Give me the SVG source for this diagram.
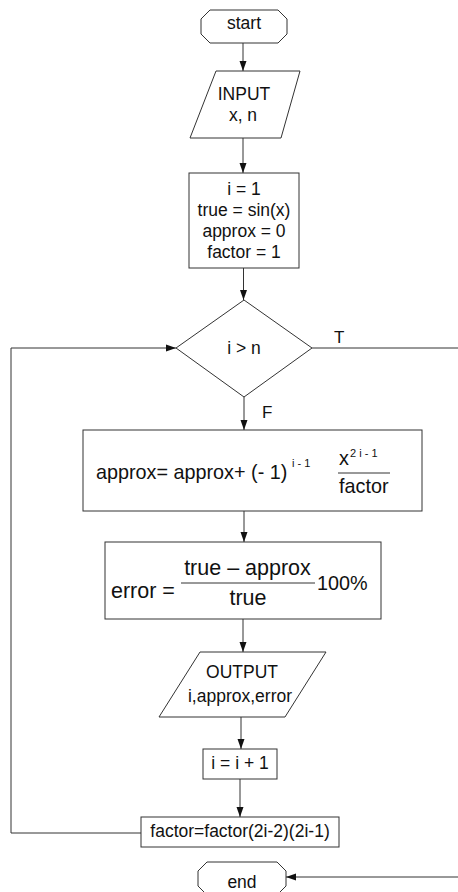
<svg xmlns="http://www.w3.org/2000/svg" width="458" height="892" viewBox="0 0 458 892">
  <defs>
    <marker id="arrow" viewBox="0 0 10 10" refX="10" refY="5" markerWidth="10" markerHeight="10" markerUnits="userSpaceOnUse" orient="auto">
      <path d="M0,1.5 L10,5 L0,8.5 Z" fill="#111"/>
    </marker>
    <style>
      .shape { fill: #fff; stroke: #333; stroke-width: 1; }
      .wire { fill: none; stroke: #333; stroke-width: 1; }
      text { font-family: "Liberation Sans", Arial, sans-serif; fill: #111; }
      .t { font-size: 17.5px; text-anchor: middle; }
      .big { font-size: 19.8px; }
      .err { font-size: 21.5px; }
      .sup { font-size: 11px; }
      .lbl { font-size: 17px; }
    </style>
  </defs>
  <rect width="458" height="892" fill="#fff"/>

  <!-- connectors -->
  <g id="connectors">
    <line class="wire" x1="243" y1="43" x2="243" y2="71" marker-end="url(#arrow)"/>
    <line class="wire" x1="243" y1="138" x2="243" y2="173" marker-end="url(#arrow)"/>
    <line class="wire" x1="243.5" y1="268" x2="243.5" y2="300" marker-end="url(#arrow)"/>
    <line class="wire" x1="244" y1="397" x2="244" y2="430" marker-end="url(#arrow)"/>
    <line class="wire" x1="244" y1="511" x2="244" y2="542" marker-end="url(#arrow)"/>
    <line class="wire" x1="243" y1="619" x2="243" y2="652" marker-end="url(#arrow)"/>
    <line class="wire" x1="241" y1="717" x2="241" y2="749" marker-end="url(#arrow)"/>
    <line class="wire" x1="240" y1="779" x2="240" y2="817" marker-end="url(#arrow)"/>
    <!-- loop back from factor update to the test -->
    <polyline class="wire" points="141,833 11,833 11,348 176,348" marker-end="url(#arrow)"/>
    <!-- true branch to end -->
    <polyline class="wire" points="312,348 460,348 460,877 286,877" marker-end="url(#arrow)"/>
    <text class="lbl" x="334" y="343">T</text>
    <text class="lbl" x="262" y="418">F</text>
  </g>

  <g id="start">
    <polygon class="shape" points="210,10 278,10 287,19 287,34 278,43 210,43 201,34 201,19"/>
    <text class="t" x="244" y="29">start</text>
  </g>

  <g id="input">
    <polygon class="shape" points="216,71 300,71 281,138 190,138"/>
    <text class="t" x="244" y="100">INPUT</text>
    <text class="t" x="243" y="121">x, n</text>
  </g>

  <g id="init">
    <rect class="shape" x="189" y="173" width="110" height="95"/>
    <text class="t" x="244" y="195">i = 1</text>
    <text class="t" x="244" y="216">true = sin(x)</text>
    <text class="t" x="244" y="237">approx = 0</text>
    <text class="t" x="244" y="258">factor = 1</text>
  </g>

  <g id="test">
    <polygon class="shape" points="244,300 312,348 244,397 176,348"/>
    <text class="t" x="244" y="354">i &gt; n</text>
  </g>

  <g id="update-approx">
    <rect class="shape" x="83" y="430" width="339" height="81"/>
    <text class="big" x="96" y="479">approx= approx+ (- 1)</text>
    <text class="sup" x="292" y="467">i - 1</text>
    <text class="big" x="339" y="465">x</text>
    <text class="sup" x="350" y="457">2 i - 1</text>
    <line x1="338" y1="473" x2="390" y2="473" stroke="#333" stroke-width="1"/>
    <text class="big" x="339" y="493">factor</text>
  </g>

  <g id="error">
    <rect class="shape" x="105" y="542" width="276" height="77"/>
    <text class="err" x="111" y="598">error =</text>
    <text class="err" x="247.5" y="575" text-anchor="middle">true – approx</text>
    <line x1="181" y1="583" x2="315" y2="583" stroke="#333" stroke-width="1"/>
    <text class="err" x="248" y="605" text-anchor="middle">true</text>
    <text class="big" x="317" y="590">100%</text>
  </g>

  <g id="output">
    <polygon class="shape" points="200,652 326,652 285,717 159,717"/>
    <text class="t" x="242" y="678">OUTPUT</text>
    <text class="t" x="240" y="702">i,approx,error</text>
  </g>

  <g id="increment">
    <rect class="shape" x="203" y="749" width="74" height="30"/>
    <text class="t" x="240" y="769">i = i + 1</text>
  </g>

  <g id="update-factor">
    <rect class="shape" x="141" y="817" width="198" height="30"/>
    <text class="t" x="240" y="837">factor=factor(2i-2)(2i-1)</text>
  </g>

  <g id="end">
    <polygon class="shape" points="207,862 277,862 286,871 286,886 277,895 207,895 198,886 198,871"/>
    <text class="t" x="242" y="888">end</text>
  </g>
</svg>
